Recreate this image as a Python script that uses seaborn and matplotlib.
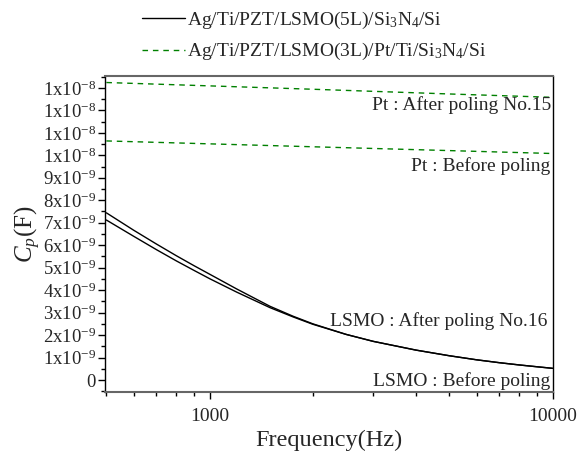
import numpy as np
import pandas as pd
import seaborn as sns
import matplotlib.pyplot as plt
from matplotlib.ticker import FixedLocator, NullFormatter, FixedFormatter

# Các giá trị (đơn vị nF)
freq_lsmo = [500, 600, 700, 800, 900, 1000, 1200, 1500, 1750, 2000, 2500,
             3000, 4000, 5000, 6000, 7000, 8000, 9000, 10000]
lsmo_after = [7.44, 6.67, 6.05, 5.53, 5.09, 4.71, 4.05, 3.28, 2.84, 2.50, 2.03,
              1.72, 1.33, 1.08, 0.90, 0.77, 0.67, 0.59, 0.52]
lsmo_before = [7.12, 6.40, 5.80, 5.30, 4.88, 4.51, 3.91, 3.22, 2.81, 2.48, 2.03,
               1.72, 1.33, 1.08, 0.90, 0.77, 0.67, 0.59, 0.52]

freq_pt = [500, 1000, 2000, 5000, 10000]
pt_after = [13.24, 13.09, 12.94, 12.73, 12.58]
pt_before = [10.64, 10.51, 10.38, 10.21, 10.08]

ytick_vals = [0, 1, 2, 3, 4, 5, 6, 7, 8, 9, 10, 11, 12, 13]
ytick_labels = ['0'] + [f'{k}x10$^{{-9}}$' for k in range(1, 10)] + ['1x10$^{-8}$'] * 4

legend_labels = ['Ag/Ti/PZT/LSMO(5L)/Si$_3$N$_4$/Si',
                 'Ag/Ti/PZT/LSMO(3L)/Pt/Ti/Si$_3$N$_4$/Si']

sns.set_style('ticks')
plt.rcParams['font.family'] = ['Liberation Serif', 'DejaVu Serif']
plt.rcParams['mathtext.fontset'] = 'custom'
plt.rcParams['mathtext.rm'] = 'Liberation Serif'
plt.rcParams['mathtext.it'] = 'Liberation Serif:italic'

df_lsmo = pd.DataFrame({'f': freq_lsmo,
                        'after': np.array(lsmo_after) * 1e-9,
                        'before': np.array(lsmo_before) * 1e-9})
df_pt = pd.DataFrame({'f': freq_pt,
                      'after': np.array(pt_after) * 1e-9,
                      'before': np.array(pt_before) * 1e-9})

fig = plt.figure(figsize=(5.86, 4.51), dpi=100)
ax = fig.add_axes([0.180, 0.130, 0.763, 0.702])

sns.lineplot(data=df_lsmo, x='f', y='after', ax=ax, color='black', lw=1.0, label=legend_labels[0])
sns.lineplot(data=df_lsmo, x='f', y='before', ax=ax, color='black', lw=1.0, label='_nolegend_')
sns.lineplot(data=df_pt, x='f', y='after', ax=ax, color='#008000', lw=1.0,
             linestyle=(0, (4, 3.5)), label=legend_labels[1])
sns.lineplot(data=df_pt, x='f', y='before', ax=ax, color='#008000', lw=1.0,
             linestyle=(0, (4, 3.5)), label='_nolegend_')

ax.set_xscale('log')
ax.set_xlim(497, 10000)
ax.set_ylim(-0.55e-9, 13.54e-9)

ax.xaxis.set_major_locator(FixedLocator([1000, 10000]))
ax.xaxis.set_major_formatter(FixedFormatter(['1000', '10000']))
ax.xaxis.set_minor_locator(FixedLocator([500, 600, 700, 800, 900, 2000, 3000, 4000,
                                         5000, 6000, 7000, 8000, 9000]))
ax.xaxis.set_minor_formatter(NullFormatter())

ax.set_yticks([v * 1e-9 for v in ytick_vals])
ax.set_yticklabels(ytick_labels)
ax.yaxis.set_minor_locator(FixedLocator([(v + 0.5) * 1e-9 for v in range(-1, 14)]))

ax.tick_params(axis='both', which='major', direction='out', length=5, width=1, color='black', pad=2)
ax.tick_params(axis='both', which='minor', direction='out', length=3, width=1, color='black')
ax.tick_params(axis='y', which='major', labelsize=13.5)
ax.tick_params(axis='x', which='major', labelsize=14, pad=6)

for side in ['top', 'bottom']:
    ax.spines[side].set_color('#666666')
    ax.spines[side].set_linewidth(1.5)
for side in ['left', 'right']:
    ax.spines[side].set_color('black')
    ax.spines[side].set_linewidth(1.0)

ax.set_xlabel('Frequency(Hz)', fontsize=17.5, labelpad=4)
ax.set_ylabel('$C_p$(F)', fontsize=18, labelpad=-0.5)

txt = dict(fontsize=14, ha='right', va='center', transform=ax.transAxes)
ax.text(0.997, 0.906, 'Pt : After poling No.15', **txt)
ax.text(0.995, 0.715, 'Pt : Before poling', **txt)
ax.text(0.988, 0.226, 'LSMO : After poling No.16', **txt)
ax.text(0.995, 0.035, 'LSMO : Before poling', **txt)

ax.legend(loc='upper left', bbox_to_anchor=(0.06, 1.24), frameon=False, fontsize=14,
          handlelength=2.2, handletextpad=0.1, labelspacing=0.55, borderpad=0)

fig.savefig('out.png', dpi=100)
